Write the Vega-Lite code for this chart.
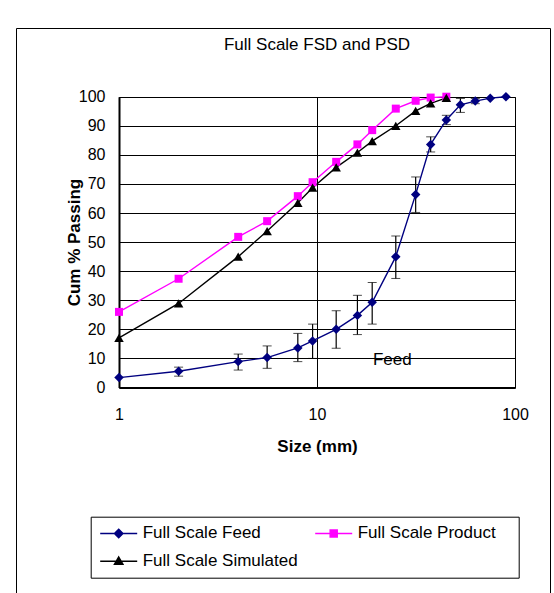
{
  "$schema": "https://vega.github.io/schema/vega-lite/v6.json",
  "width": 534,
  "height": 570,
  "autosize": {"type": "none"},
  "padding": {"left": 16, "top": 28, "right": 4, "bottom": 0},
  "background": "white",
  "title": {
    "text": "Full Scale FSD and PSD",
    "anchor": "middle",
    "frame": "group",
    "offset": -26,
    "dx": 34,
    "fontSize": 17,
    "fontWeight": "normal",
    "font": "Liberation Sans",
    "color": "black"
  },
  "config": {
    "view": {"stroke": "black", "strokeWidth": 1},
    "font": "Liberation Sans"
  },
  "resolve": {"axis": {"x": "independent"}},
  "datasets": {
    "series": [
      {"series": "Full Scale Feed", "size": 1, "pct": 3.4},
      {"series": "Full Scale Feed", "size": 2, "pct": 5.6},
      {"series": "Full Scale Feed", "size": 4, "pct": 8.9},
      {"series": "Full Scale Feed", "size": 5.6, "pct": 10.3},
      {"series": "Full Scale Feed", "size": 8, "pct": 13.6},
      {"series": "Full Scale Feed", "size": 9.5, "pct": 16.0},
      {"series": "Full Scale Feed", "size": 12.5, "pct": 20.0},
      {"series": "Full Scale Feed", "size": 16, "pct": 24.8},
      {"series": "Full Scale Feed", "size": 19, "pct": 29.3},
      {"series": "Full Scale Feed", "size": 25, "pct": 45.0},
      {"series": "Full Scale Feed", "size": 31.5, "pct": 66.4},
      {"series": "Full Scale Feed", "size": 37.5, "pct": 83.6},
      {"series": "Full Scale Feed", "size": 45, "pct": 92.0},
      {"series": "Full Scale Feed", "size": 53, "pct": 97.2},
      {"series": "Full Scale Feed", "size": 63, "pct": 98.5},
      {"series": "Full Scale Feed", "size": 75, "pct": 99.5},
      {"series": "Full Scale Feed", "size": 90, "pct": 100},
      {"series": "Full Scale Product", "size": 1, "pct": 26.0},
      {"series": "Full Scale Product", "size": 2, "pct": 37.4},
      {"series": "Full Scale Product", "size": 4, "pct": 51.8},
      {"series": "Full Scale Product", "size": 5.6, "pct": 57.2},
      {"series": "Full Scale Product", "size": 8, "pct": 65.8},
      {"series": "Full Scale Product", "size": 9.5, "pct": 70.6},
      {"series": "Full Scale Product", "size": 12.5, "pct": 77.6},
      {"series": "Full Scale Product", "size": 16, "pct": 83.6},
      {"series": "Full Scale Product", "size": 19, "pct": 88.5},
      {"series": "Full Scale Product", "size": 25, "pct": 95.9},
      {"series": "Full Scale Product", "size": 31.5, "pct": 98.6},
      {"series": "Full Scale Product", "size": 37.5, "pct": 99.7},
      {"series": "Full Scale Product", "size": 45, "pct": 100},
      {"series": "Full Scale Simulated", "size": 1, "pct": 17.1},
      {"series": "Full Scale Simulated", "size": 2, "pct": 28.9},
      {"series": "Full Scale Simulated", "size": 4, "pct": 45.0},
      {"series": "Full Scale Simulated", "size": 5.6, "pct": 53.8},
      {"series": "Full Scale Simulated", "size": 8, "pct": 63.5},
      {"series": "Full Scale Simulated", "size": 9.5, "pct": 68.7},
      {"series": "Full Scale Simulated", "size": 12.5, "pct": 75.7},
      {"series": "Full Scale Simulated", "size": 16, "pct": 80.8},
      {"series": "Full Scale Simulated", "size": 19, "pct": 84.7},
      {"series": "Full Scale Simulated", "size": 25, "pct": 90.0},
      {"series": "Full Scale Simulated", "size": 31.5, "pct": 95.1},
      {"series": "Full Scale Simulated", "size": 37.5, "pct": 97.7},
      {"series": "Full Scale Simulated", "size": 45, "pct": 99.6}
    ],
    "errors": [
      {"size": 2, "lo": 3.9, "hi": 7.0},
      {"size": 4, "lo": 6.0, "hi": 11.5},
      {"size": 5.6, "lo": 6.6, "hi": 14.3},
      {"size": 8, "lo": 8.9, "hi": 18.6},
      {"size": 9.5, "lo": 10.0, "hi": 21.8},
      {"size": 12.5, "lo": 13.5, "hi": 26.4},
      {"size": 16, "lo": 18.2, "hi": 31.7},
      {"size": 19, "lo": 21.8, "hi": 36.1},
      {"size": 25, "lo": 37.5, "hi": 52.1},
      {"size": 31.5, "lo": 60.2, "hi": 72.4},
      {"size": 37.5, "lo": 81.0, "hi": 86.2},
      {"size": 45, "lo": 90.4, "hi": 93.6},
      {"size": 53, "lo": 94.6, "hi": 99.4},
      {"size": 63, "lo": 97.6, "hi": 99.4}
    ],
    "notes": [
      {"size": 24, "pct": 9.5, "label": "Feed"}
    ]
  },
  "layer": [
    {
      "data": {"name": "errors"},
      "mark": {"type": "errorbar", "color": "black", "ticks": {"size": 9, "strokeWidth": 1.2}, "rule": {"strokeWidth": 1.2}},
      "encoding": {
        "x": {
          "field": "size", "type": "quantitative",
          "scale": {"type": "log", "domain": [1, 100], "range": [103, 499], "nice": false},
          "axis": {"orient": "top", "values": [1, 10, 100], "grid": true, "gridColor": "black", "gridWidth": 1, "gridOpacity": 1, "domain": false, "labels": false, "ticks": false, "title": null}
        },
        "y": {"field": "lo", "type": "quantitative", "title": "Cum % Passing", "scale": {"domain": [0, 100], "range": [359.5, 68.7], "nice": false, "zero": false}},
        "y2": {"field": "hi"}
      }
    },
    {
      "data": {"name": "series"},
      "mark": {"type": "line", "strokeWidth": 1.4},
      "encoding": {
        "x": {
          "field": "size", "type": "quantitative",
          "axis": {
            "orient": "bottom", "values": [1, 10, 100], "format": "d", "title": "Size (mm)", "offset": -210.5,
            "grid": false,
            "domainColor": "black", "domainWidth": 2, "ticks": false, "labelFlush": false,
            "labelPadding": 19, "labelFontSize": 16, "labelColor": "black", "labelFont": "Liberation Sans",
            "titleFontSize": 17, "titleFontWeight": "bold", "titlePadding": 16, "titleColor": "black", "titleFont": "Liberation Sans"
          }
        },
        "y": {
          "field": "pct", "type": "quantitative", "title": "Cum % Passing",
          "axis": {
            "values": [0, 10, 20, 30, 40, 50, 60, 70, 80, 90, 100], "offset": -103,
            "grid": true, "gridColor": "black", "gridWidth": 1, "gridOpacity": 1,
            "domainColor": "black", "domainWidth": 2, "ticks": false,
            "labelPadding": 14, "labelFontSize": 16, "labelColor": "black", "labelFont": "Liberation Sans",
            "titleFontSize": 17, "titleFontWeight": "bold", "titlePadding": -5, "titleColor": "black", "titleFont": "Liberation Sans"
          }
        },
        "color": {
          "field": "series", "type": "nominal",
          "scale": {"domain": ["Full Scale Feed", "Full Scale Product", "Full Scale Simulated"], "range": ["#000080", "#FF00FF", "#000000"]},
          "legend": {
            "title": null, "orient": "none", "legendX": 74.7, "legendY": 488.7, "columns": 2, "direction": "horizontal",
            "strokeColor": "black", "fillColor": "white", "padding": 8,
            "labelFontSize": 17, "labelFont": "Liberation Sans", "labelColor": "black", "labelLimit": 300,
            "symbolSize": 196, "labelOffset": 27, "columnPadding": 14, "rowPadding": 10,
            "symbolStrokeWidth": 1.5,
            "symbolType": {"expr": "datum.value == 'Full Scale Feed' ? 'M-1,0L4.286,0M1.643,-0.6L2.243,0L1.643,0.6L1.043,0Z' : (datum.value == 'Full Scale Product' ? 'M-1,0L4.286,0M1.143,-0.5L2.143,-0.5L2.143,0.5L1.143,0.5ZM26.5,0' : 'M-1,0L4.286,0M1.643,-0.6L2.243,0.45L1.043,0.45Z')"},
            "symbolFillColor": {"expr": "datum.value == 'Full Scale Feed' ? '#000080' : (datum.value == 'Full Scale Product' ? '#FF00FF' : '#000000')"}
          }
        }
      }
    },
    {
      "data": {"name": "series"},
      "transform": [{"filter": "datum.series == 'Full Scale Feed'"}],
      "mark": {"type": "point", "shape": "diamond", "filled": true, "opacity": 1, "size": 90, "color": "#000080"},
      "encoding": {
        "x": {"field": "size", "type": "quantitative", "axis": null},
        "y": {"field": "pct", "type": "quantitative"}
      }
    },
    {
      "data": {"name": "series"},
      "transform": [{"filter": "datum.series == 'Full Scale Product'"}],
      "mark": {"type": "point", "shape": "square", "filled": true, "opacity": 1, "size": 64, "color": "#FF00FF"},
      "encoding": {
        "x": {"field": "size", "type": "quantitative", "axis": null},
        "y": {"field": "pct", "type": "quantitative"}
      }
    },
    {
      "data": {"name": "series"},
      "transform": [{"filter": "datum.series == 'Full Scale Simulated'"}],
      "mark": {"type": "point", "shape": "triangle-up", "filled": true, "opacity": 1, "size": 90, "color": "#000000"},
      "encoding": {
        "x": {"field": "size", "type": "quantitative", "axis": null},
        "y": {"field": "pct", "type": "quantitative"}
      }
    },
    {
      "data": {"name": "notes"},
      "mark": {"type": "text", "fontSize": 17, "font": "Liberation Sans", "color": "black", "align": "center", "baseline": "middle"},
      "encoding": {
        "x": {"field": "size", "type": "quantitative", "axis": null},
        "y": {"field": "pct", "type": "quantitative"},
        "text": {"field": "label"}
      }
    }
  ]
}
